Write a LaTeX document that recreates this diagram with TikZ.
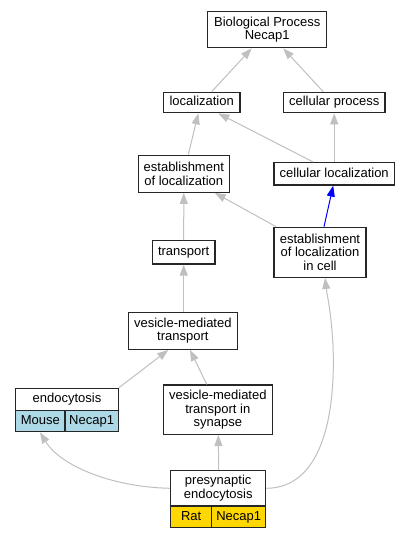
\documentclass[tikz,border=0pt]{standalone}
\usepackage{fontspec}
\setmainfont{Liberation Sans}
\usetikzlibrary{arrows.meta}
\definecolor{edgegray}{RGB}{192,192,192}
\definecolor{lblue}{HTML}{ADD8E6}
\definecolor{gold}{HTML}{FFD700}
\begin{document}
\begin{tikzpicture}[x=1pt,y=-1pt,
  box/.style={draw=black!85, line width=1.3pt, fill=white, inner sep=0pt, align=center,
    font=\fontsize{13}{13.4}\selectfont},
  cell/.style={box, text height=9.5pt, text depth=2.8pt},
  edge/.style={draw=edgegray, line width=1pt, -{Triangle[length=11pt,width=8pt]}},
  bedge/.style={edge, draw=blue, -{Triangle[length=11pt,width=8pt,fill=blue]}}]
\useasboundingbox (0,0) rectangle (411,539);
\fill[white] (0,0) rectangle (411,539);

\node[box, minimum width=119pt, minimum height=36pt] (bp) at (267.2,29.7) {Biological Process\\Necap1};
\node[cell, minimum width=76.7pt, minimum height=20.4pt] (loc) at (201.7,102.5) {localization};
\node[cell, minimum width=101.7pt, minimum height=20.4pt] (cp) at (334.2,102.5) {cellular process};
\node[box, minimum width=91pt, minimum height=37pt] (estloc) at (183.8,173.7) {establishment\\of localization};
\node[cell, minimum width=120.3pt, minimum height=22.3pt] (cellloc) at (334.2,173.8) {cellular localization};
\node[cell, minimum width=62.7pt, minimum height=23.3pt] (transport) at (183.7,252.3) {transport};
\node[box, minimum width=92pt, minimum height=50pt] (eic) at (320,252.3) {establishment\\of localization\\in cell};
\node[box, minimum width=109pt, minimum height=37pt] (vmt) at (182.8,330.8) {vesicle-mediated\\transport};
\node[box, minimum width=109pt, minimum height=49.3pt] (vmtis) at (217.8,409.7) {vesicle-mediated\\transport in\\synapse};

% endocytosis record
\node[cell, minimum width=102.6pt, minimum height=22.4pt] (endo) at (67,399.5) {endocytosis};
\node[cell, fill=lblue, minimum width=49.3pt, minimum height=21pt] (endoa) at (40.35,421.2) {Mouse};
\node[cell, fill=lblue, minimum width=53.3pt, minimum height=21pt] (endob) at (91.65,421.2) {Necap1};

% presynaptic endocytosis record
\node[box, minimum width=95pt, minimum height=35.3pt] (pre) at (218.2,488.3) {presynaptic\\endocytosis};
\node[cell, fill=gold, minimum width=41pt, minimum height=21.7pt] (prea) at (191.2,516.85) {Rat};
\node[cell, fill=gold, minimum width=54pt, minimum height=21.7pt] (preb) at (238.7,516.85) {Necap1};

% edges
\draw[edge] ([xshift=10pt]loc.north) -- ([xshift=-15.5pt]bp.south);
\draw[edge] ([xshift=-11pt]cp.north) -- ([xshift=16pt]bp.south);
\draw[edge] ([xshift=4.5pt]estloc.north) -- ([xshift=-3.4pt]loc.south);
\draw[edge] ([xshift=-21pt]cellloc.north) -- ([xshift=16.6pt]loc.south);
\draw[edge] (cellloc.north) -- (cp.south);
\draw[edge] ([xshift=2.7pt]eic.north west) -- ([xshift=31pt]estloc.south);
\draw[bedge] ([xshift=4pt]eic.north) -- ([xshift=-1pt]cellloc.south);
\draw[edge] (transport.north) -- (estloc.south);
\draw[edge] ([xshift=0.9pt]vmt.north) -- (transport.south);
\draw[edge] (endo.north east) -- ([xshift=-14.5pt]vmt.south);
\draw[edge] ([xshift=-11pt]vmtis.north) -- ([xshift=7.2pt]vmt.south);
\draw[edge] ([xshift=0.5pt]pre.north) -- ([xshift=0.5pt]vmtis.south);
\draw[edge] (pre.west) .. controls (110,487) and (60,465) .. ([xshift=-0.35pt]endoa.south);
\draw[edge] (pre.east) .. controls (320,488) and (336,420) .. (333,345) .. controls (331,310) and (327,295) .. ([xshift=5pt]eic.south);
\end{tikzpicture}
\end{document}
